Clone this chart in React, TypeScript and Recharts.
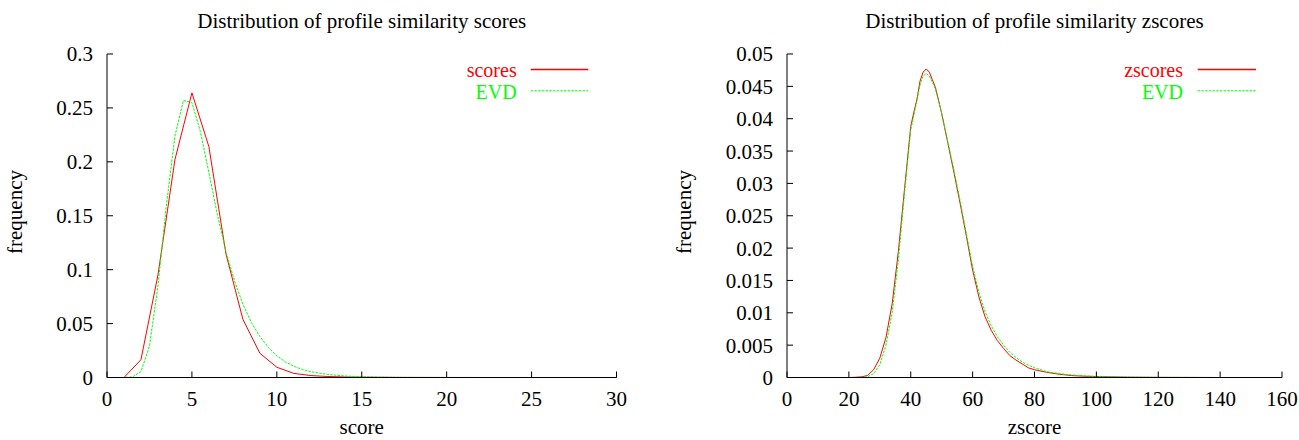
import { LineChart, Line, XAxis, YAxis, Label, Legend } from 'recharts';

const FONT = '"Liberation Serif", "Times New Roman", serif';

// left panel: raw scores
const scoreX = [0, 1, 2, 3, 4, 5, 6, 7, 8, 9, 10, 11, 12, 13, 14, 15, 16, 17, 18, 19, 20, 21, 22, 23, 24, 25, 26, 27, 28, 29, 30];
const scoreFreq = [0, 0, 0.0165, 0.095, 0.202, 0.264, 0.214, 0.115, 0.054, 0.0225, 0.0095, 0.0038, 0.0018, 0.0009, 0.0005, 0.0003, 0.0002, 0.0001, 0.00005, 0.00003, 0.00002, 0.00001, 0, 0, 0, 0, 0, 0, 0, 0, 0];
const scoreEvdX = [0, 0.5, 1, 1.5, 2, 2.5, 3, 3.5, 4, 4.5, 5, 5.5, 6, 6.5, 7, 7.5, 8, 8.5, 9, 9.5, 10, 10.5, 11, 11.5, 12, 13, 14, 15, 16, 17, 18, 20, 25, 30];
const scoreEvdFreq = [0, 0, 0, 0.0005, 0.0055, 0.029, 0.085, 0.16, 0.224, 0.257, 0.255, 0.228, 0.19, 0.151, 0.117, 0.09, 0.068, 0.051, 0.038, 0.028, 0.02, 0.0145, 0.0105, 0.0075, 0.0054, 0.0028, 0.0014, 0.0007, 0.00035, 0.00017, 0.00008, 0.00002, 0, 0];
const scoreXTicks = [0, 5, 10, 15, 20, 25, 30];
const scoreYTicks = [0, 0.05, 0.1, 0.15, 0.2, 0.25, 0.3];

// right panel: zscores
const zX = [19, 20, 22, 24, 26, 28, 30, 32, 34, 36, 38, 40, 41, 42, 43, 44, 45, 46, 47, 48, 49, 50, 52, 54, 56, 58, 60, 62, 64, 66, 68, 70, 72, 74, 76, 78, 80, 84, 88, 92, 96, 100, 110, 120, 130, 140, 153];
const zFreq = [0, 0, 0.00003, 0.0001, 0.0003, 0.0012, 0.003, 0.0062, 0.0114, 0.0195, 0.0292, 0.0388, 0.041, 0.043, 0.0458, 0.0472, 0.0477, 0.0472, 0.046, 0.0448, 0.0428, 0.0408, 0.0362, 0.0316, 0.0268, 0.0218, 0.0166, 0.0125, 0.0094, 0.0073, 0.0057, 0.0045, 0.0034, 0.0027, 0.0021, 0.0015, 0.0012, 0.0008, 0.0005, 0.0003, 0.0002, 0.00015, 0.00005, 0.00002, 0.00001, 0, 0];
const zEvdX = [19, 22, 24, 26, 28, 30, 32, 34, 36, 38, 40, 41, 42, 43, 44, 45, 46, 47, 48, 49, 50, 52, 54, 56, 58, 60, 62, 64, 66, 68, 70, 72, 74, 76, 78, 80, 84, 88, 92, 96, 100, 110, 120, 130, 140, 153];
const zEvdFreq = [0, 0, 0.00003, 0.0001, 0.0006, 0.002, 0.005, 0.01, 0.0182, 0.0285, 0.0383, 0.0405, 0.0428, 0.0452, 0.0466, 0.047, 0.0466, 0.0456, 0.0445, 0.0428, 0.0408, 0.0364, 0.032, 0.0272, 0.0222, 0.0172, 0.0132, 0.0102, 0.008, 0.0063, 0.005, 0.0039, 0.0031, 0.0024, 0.0019, 0.0015, 0.0009, 0.0006, 0.0004, 0.00025, 0.00016, 0.00006, 0.00002, 0.00001, 0, 0];
const zXTicks = [0, 20, 40, 60, 80, 100, 120, 140, 160];
const zYTicks = [0, 0.005, 0.01, 0.015, 0.02, 0.025, 0.03, 0.035, 0.04, 0.045, 0.05];

const tickStyle = { fontFamily: FONT, fontSize: 21, fill: '#000' };

type Series = { name: string; color: string; dashed?: boolean; xs: number[]; ys: number[] };

type PanelProps = {
  width: number;
  yAxisWidth: number;
  marginRight: number;
  title: string;
  xLabel: string;
  xMax: number;
  xTicks: number[];
  yMax: number;
  yTicks: number[];
  series: Series[];
  legendLeft: number;
  legendTextEnd: number;
  legendLine: [number, number];
  yLabelX: number;
};

function LegendBox({ series, textEnd, line }: { series: Series[]; textEnd: number; line: [number, number] }) {
  return (
    <svg width={180} height={52} style={{ display: 'block' }}>
      {series.map((s, i) => (
        <g key={s.name}>
          <text x={textEnd} y={22 + i * 21.5} textAnchor="end" fill={s.color} fontFamily={FONT} fontSize={20}>
            {s.name}
          </text>
          <line
            x1={line[0]}
            x2={line[1]}
            y1={14.5 + i * 21.3}
            y2={14.5 + i * 21.3}
            stroke={s.color}
            strokeWidth={s.dashed ? 1 : 1.5}
            strokeDasharray={s.dashed ? '2.5 1.2' : undefined}
          />
        </g>
      ))}
    </svg>
  );
}

function Panel(p: PanelProps) {
  return (
    <LineChart
      width={p.width}
      height={440}
      margin={{ top: 54, right: p.marginRight, bottom: 0, left: 0 }}
    >
      <XAxis
        xAxisId={0}
        type="number"
        dataKey="x"
        domain={[0, p.xMax]}
        ticks={p.xTicks}
        interval={0}
        height={62.5}
        tickSize={-6}
        tickMargin={20}
        stroke="#000"
        tick={tickStyle}
      >
        <Label
          content={({ viewBox }: any) => {
            const cx = viewBox.x + viewBox.width / 2;
            return (
              <g fontFamily={FONT} fontSize={21} fill="#000">
                <text x={cx} y={28} textAnchor="middle">{p.title}</text>
                <text x={cx} y={434} textAnchor="middle">{p.xLabel}</text>
              </g>
            );
          }}
        />
      </XAxis>
      <XAxis
        xAxisId="top"
        orientation="top"
        type="number"
        dataKey="x"
        domain={[0, p.xMax]}
        ticks={p.xTicks}
        interval={0}
        height={0}
        tickSize={-6}
        tick={false}
        stroke="#000"
      />
      <YAxis
        yAxisId={0}
        type="number"
        domain={[0, p.yMax]}
        ticks={p.yTicks}
        interval={0}
        width={p.yAxisWidth}
        tickSize={-6}
        tickMargin={20}
        stroke="#000"
        tick={tickStyle}
      >
        <Label
          content={() => (
            <text
              x={p.yLabelX}
              y={212}
              transform={`rotate(-90 ${p.yLabelX} 212)`}
              textAnchor="middle"
              fontFamily={FONT}
              fontSize={21}
              fill="#000"
            >
              frequency
            </text>
          )}
        />
      </YAxis>
      <YAxis
        yAxisId="right"
        orientation="right"
        type="number"
        domain={[0, p.yMax]}
        ticks={p.yTicks}
        interval={0}
        width={0}
        tickSize={-6}
        tick={false}
        stroke="#000"
      />
      {p.series.map((s) => (
        <Line
          key={s.name}
          data={s.xs.map((x, i) => ({ x, f: s.ys[i] }))}
          dataKey="f"
          name={s.name}
          type="linear"
          stroke={s.color}
          strokeWidth={1}
          strokeDasharray={s.dashed ? '2.5 1.2' : undefined}
          dot={false}
          activeDot={false}
          isAnimationActive={false}
        />
      ))}
      <Legend
        layout="horizontal"
        verticalAlign="middle"
        align="center"
        wrapperStyle={{ left: p.legendLeft, top: 55, width: 180, height: 52 }}
        content={() => <LegendBox series={p.series} textEnd={p.legendTextEnd} line={p.legendLine} />}
      />
    </LineChart>
  );
}

export default function App() {
  return (
    <div style={{ position: 'absolute', left: 0, top: 0, width: 1299, height: 440, background: '#fff', display: 'flex' }}>
      <Panel
        width={650}
        yAxisWidth={107}
        marginRight={33.5}
        title="Distribution of profile similarity scores"
        xLabel="score"
        xMax={30}
        xTicks={scoreXTicks}
        yMax={0.3}
        yTicks={scoreYTicks}
        series={[
          { name: 'scores', color: '#ff0000', xs: scoreX, ys: scoreFreq },
          { name: 'EVD', color: '#00ff00', dashed: true, xs: scoreEvdX, ys: scoreEvdFreq },
        ]}
        legendLeft={440}
        legendTextEnd={76.7}
        legendLine={[90.7, 148.3]}
        yLabelX={21.5}
      />
      <Panel
        width={649}
        yAxisWidth={137}
        marginRight={17}
        title="Distribution of profile similarity zscores"
        xLabel="zscore"
        xMax={160}
        xTicks={zXTicks}
        yMax={0.05}
        yTicks={zYTicks}
        series={[
          { name: 'zscores', color: '#ff0000', xs: zX, ys: zFreq },
          { name: 'EVD', color: '#00ff00', dashed: true, xs: zEvdX, ys: zEvdFreq },
        ]}
        legendLeft={450}
        legendTextEnd={83}
        legendLine={[97.7, 156]}
        yLabelX={40.5}
      />
    </div>
  );
}
